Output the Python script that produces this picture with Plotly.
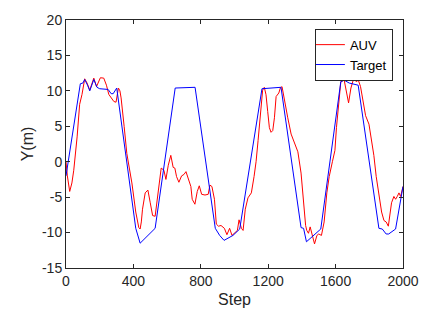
import plotly.graph_objects as go

# AUV track (step, Y in metres)
auv_step = [0, 8, 22, 35, 46, 66, 81, 95, 111, 125, 141, 165, 181, 204, 224, 240, 254, 270, 284,
            297, 311, 320, 327, 345, 361, 391, 414, 432, 440, 447, 454, 470, 486, 500, 514, 529,
            549, 565, 581, 593, 607, 622, 636, 646, 656, 670, 686, 700, 712, 726, 741, 749, 765,
            779, 791, 805, 825, 844, 854, 866, 881, 892, 905, 920, 940, 955, 971, 985, 1000, 1017,
            1027, 1041, 1051, 1064, 1080, 1100, 1116, 1128, 1140, 1155, 1167, 1177, 1187, 1197,
            1207, 1217, 1227, 1237, 1247, 1263, 1272, 1282, 1296, 1316, 1336, 1362, 1376, 1395,
            1405, 1413, 1422, 1429, 1439, 1449, 1458, 1468, 1475, 1489, 1500, 1516, 1532, 1548,
            1562, 1581, 1596, 1605, 1617, 1631, 1651, 1667, 1677, 1691, 1699, 1708, 1722, 1735,
            1748, 1762, 1778, 1798, 1813, 1827, 1841, 1857, 1873, 1887, 1900, 1913, 1920, 1932,
            1946, 1956, 1966, 1976, 1986, 2000]
auv_y = [0.0, -2.0, -4.2, -3.0, -1.2, 3.5, 8.1, 9.5, 11.7, 11.1, 10.1, 11.8, 10.6, 11.85, 11.8,
         10.8, 9.5, 9.0, 8.5, 8.4, 10.4, 10.0, 9.0, 5.0, 1.15, -3.0, -7.1, -9.3, -9.5, -8.5, -6.7,
         -4.4, -4.0, -5.8, -7.6, -7.7, -3.9, -0.9, -1.2, -2.5, -0.5, 0.9, -0.8, -0.9, -2.1, -2.9,
         -2.0, -1.8, -1.4, -2.4, -3.5, -5.3, -6.0, -4.2, -3.4, -4.6, -4.7, -4.6, -3.3, -3.5, -5.3,
         -8.8, -9.1, -9.0, -9.4, -10.3, -9.4, -10.4, -10.0, -9.7, -8.2, -9.4, -9.7, -6.7, -5.1,
         -4.4, -2.1, 0.0, 3.0, 7.0, 10.1, 10.5, 9.45, 7.1, 4.8, 4.15, 4.4, 6.2, 9.2, 9.7, 10.4,
         10.6, 9.0, 6.2, 3.9, 2.1, 1.4, -1.6, -4.5, -6.5, -9.0, -9.7, -10.1, -9.2, -10.0, -11.3,
         -11.6, -10.4, -10.2, -10.4, -8.5, -4.4, -2.1, 0.0, 1.6, 4.8, 8.1, 11.3, 11.5, 9.7, 8.3,
         10.4, 11.0, 11.8, 11.3, 11.5, 10.6, 8.5, 6.5, 5.3, 3.0, 0.9, -2.1, -4.4, -7.1, -8.3,
         -8.5, -9.1, -8.0, -5.8, -4.9, -5.3, -4.9, -4.4, -4.9, -3.5]

# Target track
tgt_step = [0, 85, 100, 111, 128, 141, 165, 184, 200, 250, 268, 280, 301, 414, 440, 529, 648, 766,
            886, 912, 938, 991, 1031, 1163, 1276, 1395, 1410, 1427, 1512, 1631, 1651, 1681, 1734,
            1857, 1877, 1900, 1915, 1956, 2000]
tgt_y = [-2.0, 11.0, 11.1, 11.6, 10.8, 10.0, 11.6, 10.5, 10.3, 10.2, 9.6, 9.6, 10.4, -9.4, -11.5,
         -9.4, 10.4, 10.5, -9.4, -10.4, -11.1, -10.4, -9.5, 10.3, 10.5, -9.3, -9.4, -11.3, -9.5,
         11.3, 11.5, 11.1, 10.8, -9.4, -9.5, -10.2, -10.2, -9.5, -3.5]

x_ticks = [0, 400, 800, 1200, 1600, 2000]
y_ticks = [-15, -10, -5, 0, 5, 10, 15, 20]

axis_color = "#262626"
font_family = "Liberation Sans, Arial, sans-serif"

fig = go.Figure()
fig.add_trace(go.Scatter(x=auv_step, y=auv_y, mode="lines", name="AUV",
                         line=dict(color="#ff0000", width=1)))
fig.add_trace(go.Scatter(x=tgt_step, y=tgt_y, mode="lines", name="Target",
                         line=dict(color="#0000ff", width=1)))

axis_common = dict(
    showline=True, linecolor=axis_color, linewidth=1, mirror="ticks",
    ticks="inside", ticklen=4, tickcolor=axis_color, tickwidth=1,
    showgrid=False, zeroline=False,
    tickfont=dict(family=font_family, size=14, color=axis_color),
)

fig.update_xaxes(range=[0, 2000], tickvals=x_ticks, ticktext=[str(v) for v in x_ticks],
                 title=dict(text="Step", font=dict(family=font_family, size=16, color=axis_color),
                            standoff=6),
                 **axis_common)
fig.update_yaxes(range=[-15, 20], tickvals=y_ticks, ticktext=[str(v) for v in y_ticks],
                 title=dict(text="Y(m)", font=dict(family=font_family, size=16, color=axis_color),
                            standoff=4),
                 **axis_common)

fig.update_layout(
    width=438, height=320,
    margin=dict(l=66, r=35, t=15, b=52),
    paper_bgcolor="white", plot_bgcolor="white",
    showlegend=True,
    legend=dict(x=0.97, y=0.965, xanchor="right", yanchor="top",
                bgcolor="white", bordercolor=axis_color, borderwidth=1,
                font=dict(family=font_family, size=13, color="#000000"),
                itemwidth=30, tracegroupgap=0, indentation=-6),
)

fig.write_html("out.html")
